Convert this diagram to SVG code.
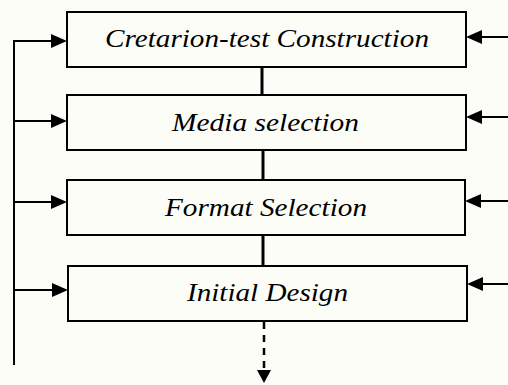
<svg xmlns="http://www.w3.org/2000/svg" width="508" height="385" viewBox="0 0 508 385">
  <style>
    .box { fill: #fdfdf8; stroke: #000; stroke-width: 2; }
    .label { font-family: "Liberation Serif", "Times New Roman", serif; font-style: italic; font-size: 25px; fill: #000; text-anchor: middle; }
    .feed { stroke: #000; stroke-width: 2; fill: none; }
    .link { stroke: #000; stroke-width: 3; fill: none; }
    .dash { stroke: #000; stroke-width: 2.5; fill: none; stroke-dasharray: 7 6; }
    .head { fill: #000; }
  </style>
  <rect x="0" y="0" width="508" height="385" fill="#fdfdf8"/>

  <g id="node-criterion-test">
    <rect class="box" x="67" y="12" width="399" height="55"/>
    <text class="label" x="267" y="47" textLength="324" lengthAdjust="spacingAndGlyphs">Cretarion-test Construction</text>
  </g>
  <g id="node-media-selection">
    <rect class="box" x="67" y="95" width="399" height="55"/>
    <text class="label" x="265.5" y="131" textLength="187" lengthAdjust="spacingAndGlyphs">Media selection</text>
  </g>
  <g id="node-format-selection">
    <rect class="box" x="67" y="180" width="398" height="55"/>
    <text class="label" x="266" y="216" textLength="202" lengthAdjust="spacingAndGlyphs">Format Selection</text>
  </g>
  <g id="node-initial-design">
    <rect class="box" x="68" y="266" width="399" height="55"/>
    <text class="label" x="267.5" y="301" textLength="161" lengthAdjust="spacingAndGlyphs">Initial Design</text>
  </g>

  <g id="connectors">
    <!-- vertical links between stages -->
    <line class="link" x1="262" y1="67" x2="262" y2="95"/>
    <line class="link" x1="263" y1="150" x2="263" y2="180"/>
    <line class="link" x1="263" y1="235" x2="263" y2="266"/>
    <!-- dashed continuation below the last stage -->
    <line class="dash" x1="264" y1="322" x2="264" y2="370"/>
    <polygon class="head" points="257,370 271,370 264,383"/>

    <!-- left feedback rail -->
    <line class="feed" x1="14" y1="40" x2="14" y2="365"/>
    <line class="feed" x1="13" y1="41" x2="52" y2="41"/>
    <polygon class="head" points="51,34 67,41 51,48"/>
    <line class="feed" x1="14" y1="121" x2="52" y2="121"/>
    <polygon class="head" points="51,114 67,121 51,128"/>
    <line class="feed" x1="14" y1="202" x2="52" y2="202"/>
    <polygon class="head" points="51,195 67,202 51,209"/>
    <line class="feed" x1="14" y1="290" x2="53" y2="290"/>
    <polygon class="head" points="52,283 68,290 52,297"/>

    <!-- right-hand inputs -->
    <line class="feed" x1="480" y1="37" x2="508" y2="37"/>
    <polygon class="head" points="482,30 466,37 482,44"/>
    <line class="feed" x1="480" y1="117" x2="508" y2="117"/>
    <polygon class="head" points="482,110 466,117 482,124"/>
    <line class="feed" x1="480" y1="201" x2="508" y2="201"/>
    <polygon class="head" points="481,194 465,201 481,208"/>
    <line class="feed" x1="481" y1="284" x2="508" y2="284"/>
    <polygon class="head" points="483,277 467,284 483,291"/>
  </g>
</svg>
